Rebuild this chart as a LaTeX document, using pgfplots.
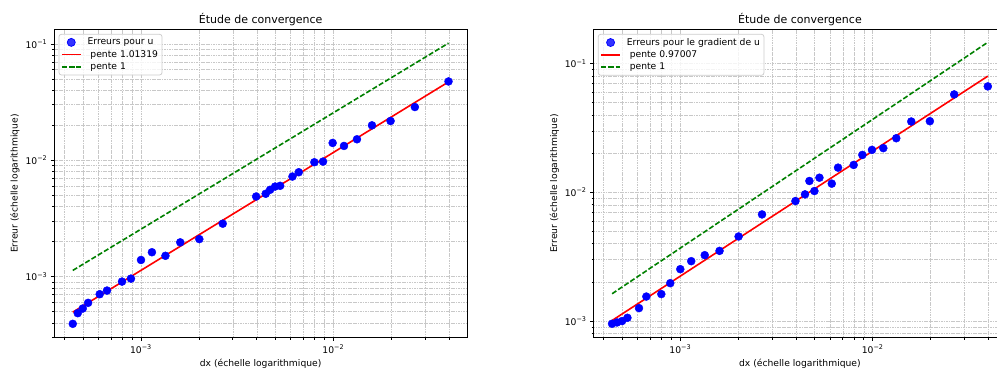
\documentclass[border=0pt]{standalone}
\usepackage{fontspec}
\setmainfont{DejaVu Sans}
\usepackage{pgfplots}
\pgfplotsset{compat=1.18}
\newcommand{\tickfont}{\fontsize{9.2}{11}\selectfont}
\newcommand{\titlefont}{\fontsize{11}{13}\selectfont}
\definecolor{gridgray}{RGB}{200,200,200}
\definecolor{leggray}{RGB}{204,204,204}
\definecolor{mgreen}{RGB}{0,128,0}
\begin{document}
\begin{tikzpicture}
\begin{axis}[
    at={(54pt,31.2pt)}, anchor=south west,
    scale only axis, width=413.3pt, height=308.5pt,
    xmode=log, ymode=log,
    xmin=3.53e-4, xmax=0.0497, ymin=2.98e-4, ymax=0.1334,
    axis line style={black, line width=0.75pt},
    tick align=outside, tick pos=left,
    major tick length=3.2pt, minor tick length=1.8pt,
    tick style={black, line width=0.7pt},
    grid=both,
    major grid style={gridgray, line width=0.5pt, dash pattern=on 1.7pt off 0.75pt},
    minor grid style={gridgray, line width=0.5pt, dash pattern=on 1.7pt off 0.75pt},
    xtick={0.001,0.01},
    xticklabels={10\textsuperscript{−3},10\textsuperscript{−2}},
    minor xtick={4e-4,5e-4,6e-4,7e-4,8e-4,9e-4,2e-3,3e-3,4e-3,5e-3,6e-3,7e-3,8e-3,9e-3,2e-2,3e-2,4e-2},
    ytick={0.001,0.01,0.1},
    yticklabels={10\textsuperscript{−3},10\textsuperscript{−2},10\textsuperscript{−1}},
    minor ytick={3e-4,4e-4,5e-4,6e-4,7e-4,8e-4,9e-4,2e-3,3e-3,4e-3,5e-3,6e-3,7e-3,8e-3,9e-3,2e-2,3e-2,4e-2,5e-2,6e-2,7e-2,8e-2,9e-2},
    ticklabel style={font=\tickfont},
    title={Étude de convergence},
    title style={font=\titlefont, at={(axis description cs:0.5,1)}, anchor=base, yshift=0pt},
    xlabel={dx (échelle logarithmique)},
    xlabel style={font=\tickfont, at={(axis description cs:0.5,0)}, anchor=base, yshift=-29pt},
    ylabel={Erreur (échelle logarithmique)},
    ylabel style={font=\tickfont, at={(axis description cs:0,0.5)}, anchor=center, yshift=39pt},
    legend cell align=left,
    legend image code/.code={\draw[mark repeat=2,mark phase=2,#1] plot coordinates {(0pt,0pt) (9.5pt,0pt) (19pt,0pt)};},
    legend style={at={(0,1)}, anchor=north west, xshift=4.6pt, yshift=-4.6pt,
      draw=leggray, line width=0.75pt, rounded corners=2.5pt, fill=white, fill opacity=0.8, text opacity=1,
      font=\tickfont, inner xsep=2pt, inner ysep=2pt,
      /tikz/every odd column/.append style={column sep=4pt}},
  ]
\addplot[only marks, mark=*, mark size=4pt, mark options={draw=blue, fill=blue}] table {
x y
4.42e-4 3.93e-4
4.69e-4 4.85e-4
4.98e-4 5.32e-4
5.31e-4 5.95e-4
6.10e-4 7.06e-4
6.66e-4 7.59e-4
7.97e-4 9.06e-4
8.87e-4 9.61e-4
1.00e-3 1.39e-3
1.14e-3 1.62e-3
1.34e-3 1.51e-3
1.60e-3 1.97e-3
2.01e-3 2.10e-3
2.66e-3 2.85e-3
3.97e-3 4.88e-3
4.45e-3 5.15e-3
4.69e-3 5.57e-3
4.98e-3 5.94e-3
5.29e-3 6.03e-3
6.13e-3 7.24e-3
6.61e-3 7.89e-3
7.97e-3 9.61e-3
8.84e-3 9.74e-3
9.92e-3 1.408e-2
1.136e-2 1.327e-2
1.327e-2 1.514e-2
1.588e-2 1.995e-2
1.984e-2 2.174e-2
2.654e-2 2.865e-2
3.97e-2 4.753e-2
};
\addlegendentry{Erreurs pour u}
\addplot[red, line width=1.6pt, mark=none] coordinates {(4.42e-4,4.95e-4) (3.97e-2,4.71e-2)};
\addlegendentry{\ pente 1.01319}
\addplot[mgreen, line width=1.6pt, mark=none, dash pattern=on 5.1pt off 2.2pt] coordinates {(4.42e-4,1.13e-3) (3.97e-2,0.1015)};
\addlegendentry{\ pente 1}
\end{axis}
\begin{axis}[
    at={(593.3pt,31.2pt)}, anchor=south west,
    scale only axis, width=413.3pt, height=308.5pt,
    xmode=log, ymode=log,
    xmin=3.53e-4, xmax=0.0497, ymin=7.41e-4, ymax=0.185,
    axis line style={black, line width=0.75pt},
    tick align=outside, tick pos=left,
    major tick length=3.2pt, minor tick length=1.8pt,
    tick style={black, line width=0.7pt},
    grid=both,
    major grid style={gridgray, line width=0.5pt, dash pattern=on 1.7pt off 0.75pt},
    minor grid style={gridgray, line width=0.5pt, dash pattern=on 1.7pt off 0.75pt},
    xtick={0.001,0.01},
    xticklabels={10\textsuperscript{−3},10\textsuperscript{−2}},
    minor xtick={4e-4,5e-4,6e-4,7e-4,8e-4,9e-4,2e-3,3e-3,4e-3,5e-3,6e-3,7e-3,8e-3,9e-3,2e-2,3e-2,4e-2},
    ytick={0.001,0.01,0.1},
    yticklabels={10\textsuperscript{−3},10\textsuperscript{−2},10\textsuperscript{−1}},
    minor ytick={8e-4,9e-4,2e-3,3e-3,4e-3,5e-3,6e-3,7e-3,8e-3,9e-3,2e-2,3e-2,4e-2,5e-2,6e-2,7e-2,8e-2,9e-2},
    ticklabel style={font=\tickfont},
    title={Étude de convergence},
    title style={font=\titlefont, at={(axis description cs:0.5,1)}, anchor=base, yshift=0pt},
    xlabel={dx (échelle logarithmique)},
    xlabel style={font=\tickfont, at={(axis description cs:0.5,0)}, anchor=base, yshift=-29pt},
    ylabel={Erreur (échelle logarithmique)},
    ylabel style={font=\tickfont, at={(axis description cs:0,0.5)}, anchor=center, yshift=39pt},
    legend cell align=left,
    legend image code/.code={\draw[mark repeat=2,mark phase=2,#1] plot coordinates {(0pt,0pt) (9.5pt,0pt) (19pt,0pt)};},
    legend style={at={(0,1)}, anchor=north west, xshift=4.6pt, yshift=-4.6pt,
      draw=leggray, line width=0.75pt, rounded corners=2.5pt, fill=white, fill opacity=0.8, text opacity=1,
      font=\tickfont, inner xsep=2pt, inner ysep=2pt,
      /tikz/every odd column/.append style={column sep=4pt}},
  ]
\addplot[only marks, mark=*, mark size=4pt, mark options={draw=blue, fill=blue}] table {
x y
4.42e-4 9.53e-4
4.69e-4 9.75e-4
4.98e-4 1.00e-3
5.31e-4 1.06e-3
6.10e-4 1.26e-3
6.66e-4 1.55e-3
7.97e-4 1.62e-3
8.87e-4 1.97e-3
1.00e-3 2.53e-3
1.14e-3 2.92e-3
1.34e-3 3.25e-3
1.60e-3 3.51e-3
2.01e-3 4.54e-3
2.66e-3 6.74e-3
3.97e-3 8.56e-3
4.45e-3 9.65e-3
4.69e-3 1.226e-2
4.98e-3 1.024e-2
5.29e-3 1.30e-2
6.13e-3 1.169e-2
6.61e-3 1.556e-2
7.97e-3 1.633e-2
8.84e-3 1.954e-2
9.92e-3 2.138e-2
1.136e-2 2.206e-2
1.327e-2 2.634e-2
1.588e-2 3.553e-2
1.984e-2 3.574e-2
2.654e-2 5.77e-2
3.97e-2 6.66e-2
};
\addlegendentry{Erreurs pour le gradient de u}
\addplot[red, line width=1.6pt, mark=none] coordinates {(4.42e-4,1.01e-3) (3.97e-2,0.080)};
\addlegendentry{\ pente 0.97007}
\addplot[mgreen, line width=1.6pt, mark=none, dash pattern=on 5.1pt off 2.2pt] coordinates {(4.42e-4,1.63e-3) (3.97e-2,0.1466)};
\addlegendentry{\ pente 1}
\end{axis}
\pgfresetboundingbox
\useasboundingbox (0,0) rectangle (997pt,369pt);
\end{tikzpicture}
\end{document}
